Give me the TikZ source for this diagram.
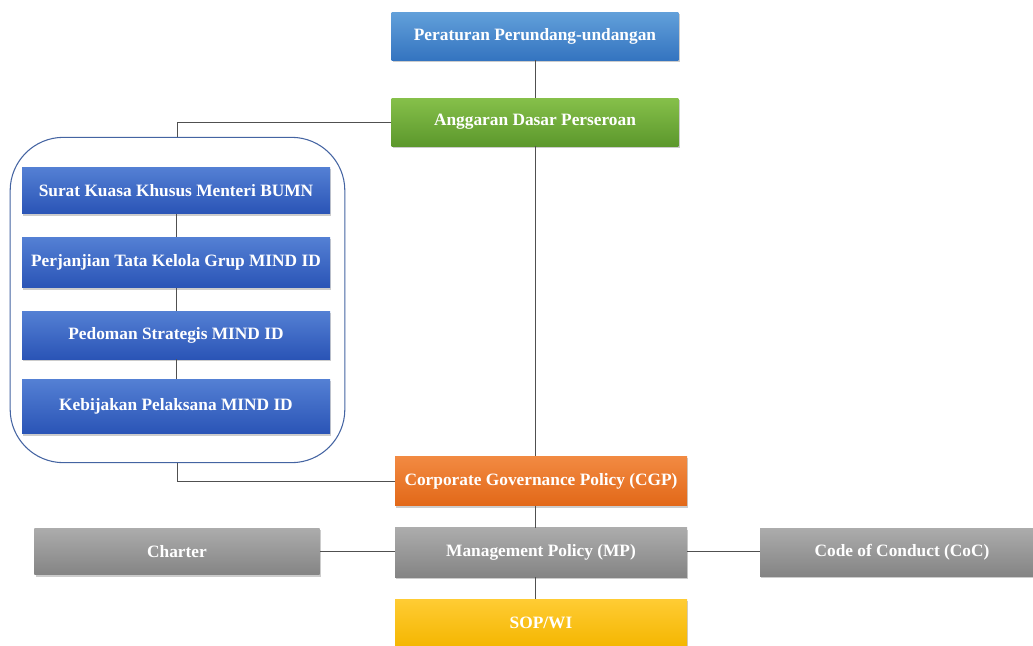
\documentclass[tikz,border=0pt]{standalone}
\usepackage{fontspec}
\setmainfont{Liberation Serif}
\usetikzlibrary{positioning}
\usetikzlibrary{shadows}
\definecolor{skytop}{RGB}{98,160,218}
\definecolor{skybot}{RGB}{52,116,192}
\definecolor{greentop}{RGB}{134,192,74}
\definecolor{greenbot}{RGB}{92,152,44}
\definecolor{bluetop}{RGB}{84,128,212}
\definecolor{bluebot}{RGB}{42,84,182}
\definecolor{orangetop}{RGB}{242,138,66}
\definecolor{orangebot}{RGB}{226,104,24}
\definecolor{greytop}{RGB}{172,172,172}
\definecolor{greybot}{RGB}{132,132,132}
\definecolor{goldtop}{RGB}{255,204,52}
\definecolor{goldbot}{RGB}{244,182,0}
\definecolor{mline}{RGB}{80,80,80}
\definecolor{mframe}{RGB}{68,100,162}
\tikzset{box/.style = {rectangle, inner sep = 0, text = white,
    font = \bfseries\fontsize{13}{15}\selectfont,
    drop shadow = {shadow xshift = 1pt, shadow yshift = -1.4pt, opacity = 0.4}}}
\tikzset{conn/.style = {mline, line width = 0.6pt}}
\begin{document}
\begin{tikzpicture}[x = 0.75pt, y = -0.75pt]
    \useasboundingbox (0,0) rectangle (1033,646);
    \clip (0,0) rectangle (1033,646);

    \node[draw = mframe, line width = 0.8pt, rounded corners = 40pt,
      minimum width = 251pt, minimum height = 244pt] (group) at (177.5,300) {};

    \node[box, top color = skytop, bottom color = skybot,
      minimum width = 215pt, minimum height = 36pt] (peraturan) at (535,36) {Peraturan Perundang-undangan};
    \node[box, top color = greentop, bottom color = greenbot,
      minimum width = 215pt, minimum height = 36pt] (anggaran) at (535,122) {Anggaran Dasar Perseroan};

    \node[box, top color = bluetop, bottom color = bluebot,
      minimum width = 231pt, minimum height = 35pt] (surat) at (176,190.5) {Surat Kuasa Khusus Menteri BUMN};
    \node[box, top color = bluetop, bottom color = bluebot,
      minimum width = 231pt, minimum height = 38pt] (perjanjian) at (176,262.5) {Perjanjian Tata Kelola Grup MIND ID};
    \node[box, top color = bluetop, bottom color = bluebot,
      minimum width = 231pt, minimum height = 36pt] (pedoman) at (176,335) {Pedoman Strategis MIND ID};
    \node[box, top color = bluetop, bottom color = bluebot,
      minimum width = 231pt, minimum height = 41pt] (kebijakan) at (176,406.5) {Kebijakan Pelaksana MIND ID};

    \node[box, top color = orangetop, bottom color = orangebot,
      minimum width = 219pt, minimum height = 37pt] (cgp) at (541,481) {Corporate Governance Policy (CGP)};
    \node[box, top color = greytop, bottom color = greybot,
      minimum width = 219pt, minimum height = 37pt] (mp) at (541,552.5) {Management Policy (MP)};
    \node[box, top color = greytop, bottom color = greybot,
      minimum width = 214pt, minimum height = 35pt] (charter) at (177,551.5) {Charter};
    \node[box, top color = greytop, bottom color = greybot,
      minimum width = 213pt, minimum height = 36pt] (coc) at (902,552) {Code of Conduct (CoC)};
    \node[box, top color = goldtop, bottom color = goldbot,
      minimum width = 219pt, minimum height = 36pt] (sop) at (541,623) {SOP/WI};

    \draw[conn] (peraturan.south) -- (anggaran.north);
    \draw[conn] (anggaran.west) -| (group.north);
    \draw[conn] (anggaran.south) -- (anggaran.south |- cgp.north);
    \draw[conn] (surat) -- (perjanjian);
    \draw[conn] (perjanjian) -- (pedoman);
    \draw[conn] (pedoman) -- (kebijakan);
    \draw[conn] (group.south) |- (cgp.west);
    \draw[conn] (cgp.south -| anggaran.south) -- (anggaran.south |- mp.north);
    \draw[conn] (charter.east) -- (charter.east -| mp.west);
    \draw[conn] (mp.east |- charter.east) -- (coc.west |- charter.east);
    \draw[conn] (mp.south -| anggaran.south) -- (anggaran.south |- sop.north);
  \end{tikzpicture}
\end{document}
